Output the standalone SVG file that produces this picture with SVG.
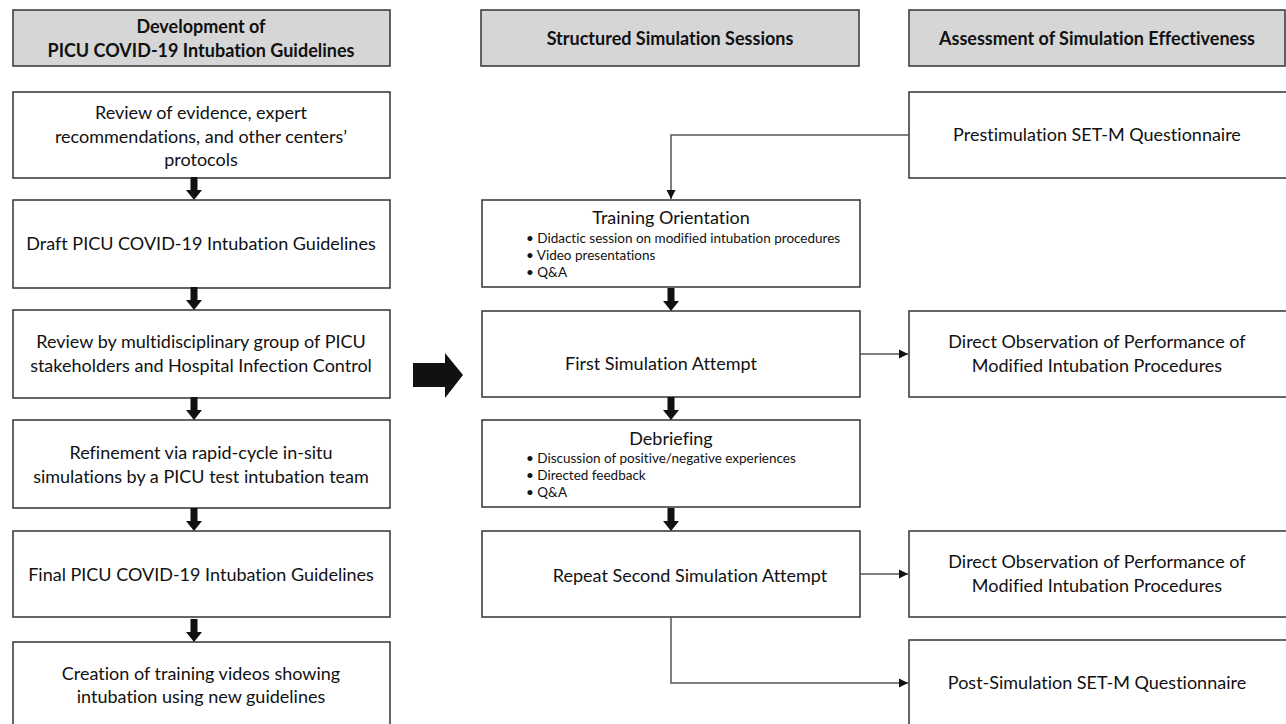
<svg xmlns="http://www.w3.org/2000/svg" width="1286" height="724" viewBox="0 0 1286 724">
<style>
.box{fill:#fff;stroke:#333;stroke-width:1.5}
.hdr{fill:#d6d6d6;stroke:#333;stroke-width:1.5}
text{font-family:Lato,"Liberation Sans",sans-serif;fill:#111;text-anchor:middle;font-variant-ligatures:none}
.h{font-size:18px;font-weight:bold}
.t{font-size:18px}
.b{font-size:13.5px;text-anchor:start}
.conn{fill:none;stroke:#555;stroke-width:1.5}
</style>
<defs>
<marker id="ah" markerWidth="10" markerHeight="10" refX="9" refY="5" orient="auto" markerUnits="userSpaceOnUse">
<path d="M0,0.5 L9,5 L0,9.5 Z" fill="#111"/>
</marker>
<path id="dn" d="M-3.5,-23 L3.5,-23 L3.5,-10 L8,-10 L0,0 L-8,-10 L-3.5,-10 Z" fill="#111"/>
</defs>

<g id="hdr-dev"><rect class="hdr" x="13" y="10" width="377" height="56"/>
<text class="h" x="201" y="33">Development of</text>
<text class="h" x="201" y="57">PICU COVID-19 Intubation Guidelines</text></g>
<g id="hdr-sim"><rect class="hdr" x="481" y="10" width="378" height="56"/>
<text class="h" x="670" y="45">Structured Simulation Sessions</text></g>
<g id="hdr-assess"><rect class="hdr" x="909" y="10" width="376" height="56"/>
<text class="h" x="1097" y="45">Assessment of Simulation Effectiveness</text></g>

<g id="n-review"><rect class="box" x="13" y="92" width="377" height="86"/>
<text class="t" x="201" y="119">Review of evidence, expert</text>
<text class="t" x="201" y="143">recommendations, and other centers’</text>
<text class="t" x="201" y="166">protocols</text></g>
<g id="n-draft"><rect class="box" x="13" y="200" width="377" height="88"/>
<text class="t" x="201" y="250">Draft PICU COVID-19 Intubation Guidelines</text></g>
<g id="n-multi"><rect class="box" x="13" y="310" width="377" height="88"/>
<text class="t" x="201" y="348">Review by multidisciplinary group of PICU</text>
<text class="t" x="201" y="372">stakeholders and Hospital Infection Control</text></g>
<g id="n-refine"><rect class="box" x="13" y="420" width="377" height="88"/>
<text class="t" x="201" y="459">Refinement via rapid-cycle in-situ</text>
<text class="t" x="201" y="483">simulations by a PICU test intubation team</text></g>
<g id="n-final"><rect class="box" x="13" y="531" width="377" height="86"/>
<text class="t" x="201" y="581">Final PICU COVID-19 Intubation Guidelines</text></g>
<g id="n-videos"><rect class="box" x="13" y="642" width="377" height="90"/>
<text class="t" x="201" y="680">Creation of training videos showing</text>
<text class="t" x="201" y="703">intubation using new guidelines</text></g>

<g id="n-orient"><rect class="box" x="482" y="200" width="378" height="87"/>
<text class="t" x="671" y="224">Training Orientation</text>
<text class="b" x="526" y="243">•  Didactic session on modified intubation procedures</text>
<text class="b" x="526" y="260">•  Video presentations</text>
<text class="b" x="526" y="277">•  Q&amp;A</text></g>
<g id="n-first"><rect class="box" x="482" y="311" width="378" height="86"/>
<text class="t" x="661" y="370">First Simulation Attempt</text></g>
<g id="n-debrief"><rect class="box" x="482" y="420" width="378" height="87"/>
<text class="t" x="671" y="445">Debriefing</text>
<text class="b" x="526" y="463">•  Discussion of positive/negative experiences</text>
<text class="b" x="526" y="480">•  Directed feedback</text>
<text class="b" x="526" y="497">•  Q&amp;A</text></g>
<g id="n-repeat"><rect class="box" x="482" y="531" width="378" height="86"/>
<text class="t" x="690" y="582">Repeat Second Simulation Attempt</text></g>

<g id="n-pre"><rect class="box" x="909" y="92" width="380" height="86"/>
<text class="t" x="1097" y="141">Prestimulation SET-M Questionnaire</text></g>
<g id="n-obs1"><rect class="box" x="909" y="311" width="380" height="86"/>
<text class="t" x="1097" y="348">Direct Observation of Performance of</text>
<text class="t" x="1097" y="372">Modified Intubation Procedures</text></g>
<g id="n-obs2"><rect class="box" x="909" y="531" width="380" height="86"/>
<text class="t" x="1097" y="568">Direct Observation of Performance of</text>
<text class="t" x="1097" y="592">Modified Intubation Procedures</text></g>
<g id="n-post"><rect class="box" x="909" y="640" width="380" height="92"/>
<text class="t" x="1097" y="689">Post-Simulation SET-M Questionnaire</text></g>

<g id="connectors">
<use href="#dn" x="194" y="200"/>
<use href="#dn" x="194" y="310"/>
<use href="#dn" x="194" y="420"/>
<use href="#dn" x="194" y="531"/>
<use href="#dn" x="194" y="642"/>
<use href="#dn" x="671" y="311"/>
<use href="#dn" x="671" y="420"/>
<use href="#dn" x="671" y="531"/>
<path d="M413,363 L445,363 L445,353 L463,375 L445,398 L445,387 L413,387 Z" fill="#111"/>
<path class="conn" d="M909,135 H671 V199" marker-end="url(#ah)"/>
<path class="conn" d="M860,354 H908" marker-end="url(#ah)"/>
<path class="conn" d="M860,574 H908" marker-end="url(#ah)"/>
<path class="conn" d="M671,617 V683 H908" marker-end="url(#ah)"/>
</g>
</svg>
